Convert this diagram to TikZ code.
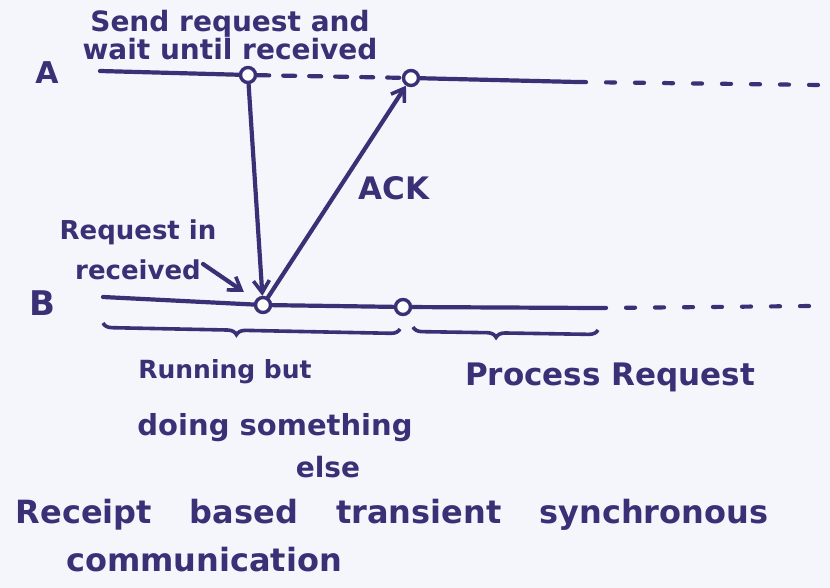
\documentclass[tikz,border=0pt]{standalone}
\usepackage{fontspec}
\setmainfont{DejaVu Sans}
\usetikzlibrary{arrows.meta,decorations.pathreplacing}

\begin{document}
\begin{tikzpicture}[x=1pt,y=-1pt]
	\definecolor{ink}{RGB}{58,48,118}
	\definecolor{paper}{RGB}{244,246,252}
	\tikzstyle{ring}=[circle,draw=ink,line width=3.4pt,minimum size=15pt,inner sep=0pt,fill=white]
	\tikzstyle{hand}=[text=ink,inner sep=0pt,align=center]
	\tikzstyle{wire}=[draw=ink,line width=4.2pt,line cap=round]
	\tikzstyle{tip}=[-{Straight Barb[length=12pt,width=16pt,line width=3.6pt]}]
	\tikzstyle{bracket}=[draw=ink,line width=3.6pt,decorate,decoration={brace,mirror,amplitude=9pt,aspect=0.45}]
	\fill[paper] (0,0) rectangle (830,588);
	% the two processes
	\node[hand,font=\bfseries\fontsize{30}{30}\selectfont] (A) at (47,73) {A};
	\node[hand,font=\bfseries\fontsize{34}{34}\selectfont] (B) at (42,303) {B};
	\coordinate (a0) at (100,71);
	\node[ring] (a1) at (248,75) {};
	\node[ring] (a2) at (411,78) {};
	\coordinate (a3) at (577,82);
	\coordinate (a4) at (820,85);
	\coordinate (b0) at (103,297);
	\node[ring] (b1) at (263,305) {};
	\node[ring] (b2) at (403,307) {};
	\coordinate (b3) at (597,308);
	\coordinate (b4) at (815,306);
	\draw[wire] (a0) -- (a1);
	\draw[wire,dash pattern=on 12pt off 14pt] (a1) -- (a2);
	\draw[wire] (a2) -- (a3);
	\draw[wire,dash pattern=on 9pt off 20pt] (a3) -- (a4);
	\draw[wire] (b0) -- (b1);
	\draw[wire] (b1) -- (b2);
	\draw[wire] (b2) -- (b3);
	\draw[wire,dash pattern=on 9pt off 20pt] (b3) -- (b4);
	% messages
	\draw[wire,tip] (a1) -- (b1);
	\draw[wire,tip] (b1) -- (a2);
	\node[hand,font=\bfseries\fontsize{31}{31}\selectfont] (ack) at (394,188) {ACK};
	% labels
	\node[hand,font=\bfseries\fontsize{28}{27}\selectfont] (send) at (230,35) {Send request and\\wait until received};
	\node[hand,font=\bfseries\fontsize{26}{40}\selectfont] (rq) at (138,250) {Request in\\received};
	\coordinate (rq1) at (203,264);
	\draw[wire,tip,shorten >=14pt] (rq1) -- (b1);
	\draw[bracket] (103,323) -- (400,329);
	\draw[bracket] (413,327) -- (598,330);
	\node[hand,font=\bfseries\fontsize{25}{25}\selectfont] (run) at (225,372) {Running but};
	\node[hand,font=\bfseries\fontsize{29}{29}\selectfont] (doing) at (275,428) {doing something};
	\node[hand,font=\bfseries\fontsize{28}{28}\selectfont] (else) at (328,467) {else};
	\node[hand,font=\bfseries\fontsize{31}{31}\selectfont] (proc) at (610,377) {Process Request};
	\node[hand,font=\bfseries\fontsize{32}{32}\selectfont] (title) at (392,515) {\spaceskip=38pt Receipt based transient synchronous};
	\node[hand,font=\bfseries\fontsize{32}{32}\selectfont] (comm) at (204,560) {communication};
\end{tikzpicture}
\end{document}
